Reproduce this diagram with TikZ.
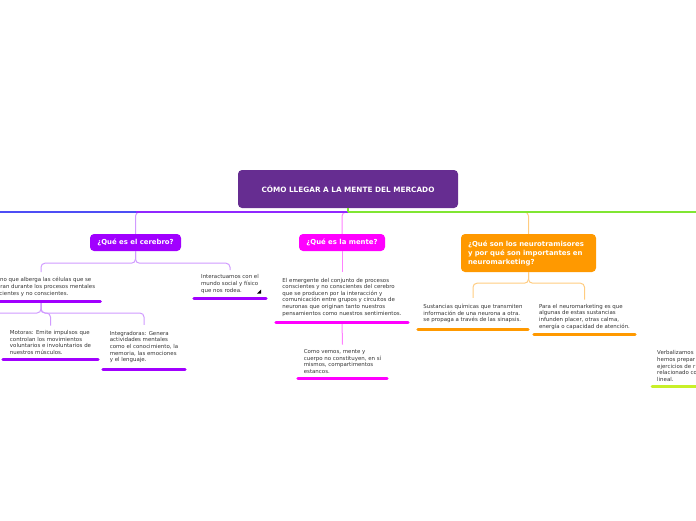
\documentclass[tikz,border=0pt]{standalone}
\usepackage{fontspec}
\setmainfont{DejaVu Sans}
\definecolor{rootc}{HTML}{662D91}
\definecolor{cerc}{HTML}{A100FF}
\definecolor{menc}{HTML}{FF00FF}
\definecolor{neuc}{HTML}{FF9900}
\definecolor{bluec}{HTML}{4D4DF5}
\definecolor{purc}{HTML}{9028FF}
\definecolor{greenc}{HTML}{80E632}
\definecolor{cerlight}{HTML}{D09AFF}
\definecolor{menlight}{HTML}{FF80FF}
\definecolor{neulight}{HTML}{FFCC80}
\definecolor{limec}{HTML}{C8F028}
\definecolor{txt}{HTML}{333333}
\begin{document}
\begin{tikzpicture}[x=1pt,y=-1pt,
  rootbox/.style={rounded corners=4pt, fill=rootc, text=white, inner sep=0pt,
    font=\bfseries\fontsize{7.3}{8}\selectfont, minimum width=220pt, minimum height=38pt},
  topic/.style={rounded corners=4pt, text=white, inner sep=0pt,
    font=\bfseries\fontsize{6.9}{9}\selectfont},
  sub/.style={align=left, text=txt, font=\fontsize{5.45}{6.6}\selectfont,
    inner xsep=5pt, inner ysep=4.5pt, anchor=south},
  uline/.style={line width=3pt, line cap=round},
  mainline/.style={line width=2pt},
  branch/.style={line width=1pt, rounded corners=4pt}]
\useasboundingbox (0,0) rectangle (696,520);
\clip (0,0) rectangle (696,520);

% main topics
\node[rootbox] (root) at (348,189) {CÓMO LLEGAR A LA MENTE DEL MERCADO};
\node[topic, fill=cerc, minimum width=91pt, minimum height=17pt] (cer) at (135.5,242.5) {¿Qué es el cerebro?};
\node[topic, fill=menc, minimum width=86pt, minimum height=17pt] (men) at (342,242.5) {¿Qué es la mente?};
\node[topic, fill=neuc, minimum width=135pt, minimum height=38pt, align=left, text width=121pt] (neu) at (528.5,253)
  {¿Qué son los neurotramisores\\y por qué son importantes en\\neuromarketing?};

% subtopics
\node[sub, minimum width=116pt] (c1) at (41,301)
  {Órgano que alberga las células que se\\generan durante los procesos mentales\\conscientes y no conscientes.};
\node[sub, minimum width=72pt] (c2) at (230,298)
  {Interactuamos con el\\mundo social y físico\\que nos rodea.};
\node[sub, minimum width=95pt] (mo) at (50.5,359)
  {Motoras: Emite impulsos que\\controlan los movimientos\\voluntarios e involuntarios de\\nuestros músculos.};
\node[sub, minimum width=82pt, inner ysep=6pt] (ig) at (144,369)
  {Integradoras: Genera\\actividades mentales\\como el conocimiento, la\\memoria, las emociones\\y el lenguaje.};
\node[sub, minimum width=132pt, inner ysep=5.5pt] (m1) at (342,322)
  {El emergente del conjunto de procesos\\conscientes y no conscientes del cerebro\\que se producen por la interacción y\\comunicación entre grupos y circuitos de\\neuronas que originan tanto nuestros\\pensamientos como nuestros sentimientos.};
\node[sub, minimum width=89pt] (m2) at (342.5,378)
  {Como vemos, mente y\\cuerpo no constituyen, en sí\\mismos, compartimentos\\estancos.};
\node[sub, minimum width=110pt, inner ysep=6pt] (n1) at (473,329)
  {Sustancias químicas que transmiten\\información de una neurona a otra.\\se propaga a través de las sinapsis.};
\node[sub, minimum width=101pt] (n2) at (584.5,334)
  {Para el neuromarketing es que\\algunas de estas sustancias\\infunden placer, otras calma,\\energía o capacidad de atención.};
\node[sub, anchor=south west] (g1) at (652,386)
  {Verbalizamos\\hemos prepar\\ejercicios de r\\relacionado co\\lineal.};

% main connectors
\coordinate (hub) at (348,212);
\coordinate (offL) at (-10,212);
\coordinate (offR) at (706,212);
\coordinate (offC) at (-40,319);
\draw[mainline, bluec] (hub) -- (offL);
\draw[branch, menlight] (hub) -| (men.north);
\draw[branch, neulight] (hub) -| (neu.north);
\draw[branch, cerlight] (hub) -| (cer.north);
\draw[mainline, purc] (hub) -- (cer.north |- hub);
\draw[mainline, greenc] (hub) -- (offR);
\draw[line width=1.2pt, greenc] (root.south) -- (hub);

% sub connectors
\draw[branch, cerlight] (cer.south) -- ++(0,12) -| (c1.north);
\draw[branch, cerlight] (cer.south) -- ++(0,12) -| (c2.north);
\draw[branch, cerlight] (c1.south) -- ++(0,12) -| (mo.north);
\draw[branch, cerlight] (c1.south) -- ++(0,12) -| (ig.north);
\draw[branch, cerlight] (c1.south) -- ++(0,12) -| (offC);
\draw[branch, menlight] (men.south) -- (m1.north);
\draw[branch, menlight] (m1.south) -- (m2.north);
\draw[branch, neulight] (neu.south) -- ++(0,11) -| (n1.north);
\draw[branch, neulight] (neu.south) -- ++(0,11) -| (n2.north);

% underlines
\foreach \n in {c1,c2,mo,ig} \draw[uline, cerc] (\n.south west) -- (\n.south east);
\foreach \n in {m1,m2} \draw[uline, menc] (\n.south west) -- (\n.south east);
\foreach \n in {n1,n2} \draw[uline, neuc] (\n.south west) -- (\n.south east);
\draw[uline, limec] (g1.south west) -- (g1.south east);

% small icon
\fill[black] ([shift={(-9,-4.5)}]c2.south east) -- ++(4,0) -- ++(0,-4) -- cycle;
\end{tikzpicture}
\end{document}
